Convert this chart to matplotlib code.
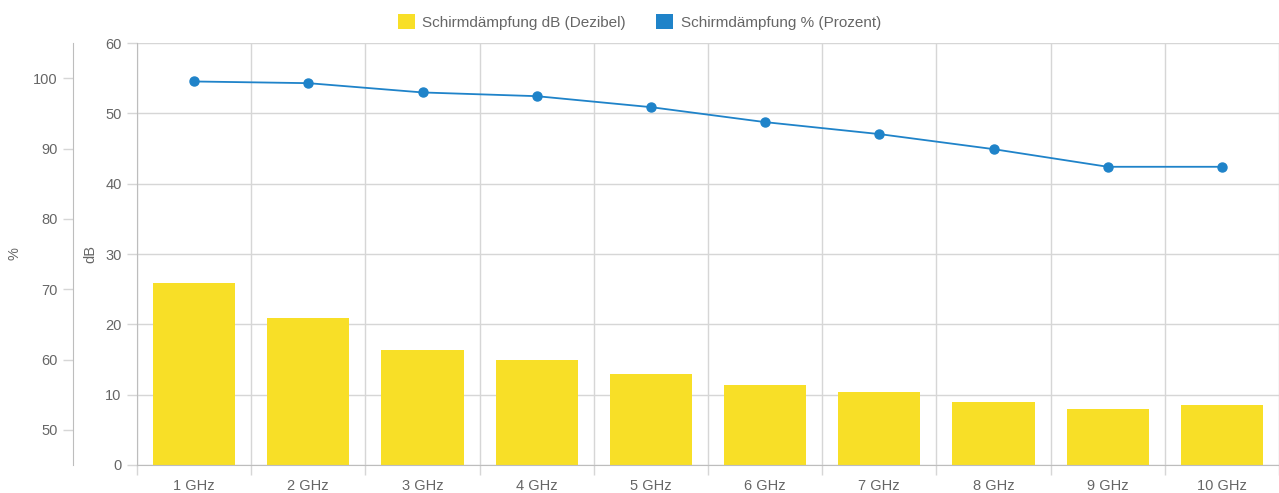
import matplotlib
matplotlib.use("Agg")
import matplotlib.pyplot as plt
import numpy as np
from matplotlib.patches import Patch

plt.rcParams["font.family"] = ["Liberation Sans", "DejaVu Sans"]

# ---------------------------------------------------------------------------
# Data
# ---------------------------------------------------------------------------

frequencies = ["1 GHz", "2 GHz", "3 GHz", "4 GHz", "5 GHz",
               "6 GHz", "7 GHz", "8 GHz", "9 GHz", "10 GHz"]
attenuation_db = [25.9, 20.9, 16.4, 14.9, 12.9, 11.4, 10.4, 9.0, 8.0, 8.5]
attenuation_pct = [99.53, 99.29, 97.97, 97.44, 95.88, 93.75, 92.05, 89.91, 87.4, 87.4]

db_ticks = [0, 10, 20, 30, 40, 50, 60]
pct_ticks = [50, 60, 70, 80, 90, 100]

YELLOW = "#f8df27"
BLUE = "#1f83c9"
TEXT = "#666666"
GRID = "#d6d6d6"
AXIS = "#bdbdbd"

W, H = 1279, 493
fig = plt.figure(figsize=(W / 100, H / 100), dpi=100)
fig.patch.set_facecolor("white")

left, right, top, bottom = 137, 1279, 43, 465
ax = fig.add_axes([left / W, (H - bottom) / H, (right - left) / W, (bottom - top) / H])

x = np.arange(len(frequencies))
ax.bar(x, attenuation_db, width=0.72, color=YELLOW, zorder=2)
ax.set_xlim(-0.5, len(frequencies) - 0.5)
ax.set_ylim(0, 60)
ax.set_yticks(db_ticks)
ax.set_xticks(x)
ax.set_xticklabels(frequencies)
ax.set_xticks(np.arange(-0.5, len(frequencies)), minor=True)
ax.tick_params(axis="x", which="major", length=0, pad=10, labelsize=10.5, labelcolor=TEXT)
ax.tick_params(axis="x", which="minor", length=7, color=GRID, width=1)
ax.tick_params(axis="y", length=7, color=GRID, width=1, pad=4, labelsize=10.5, labelcolor=TEXT)
ax.grid(axis="y", which="major", color=GRID, linewidth=1, zorder=0)
ax.grid(axis="x", which="minor", color=GRID, linewidth=1, zorder=0)
ax.set_axisbelow(True)
for side in ("top", "right"):
    ax.spines[side].set_visible(False)
for side in ("left", "bottom"):
    ax.spines[side].set_color(AXIS)
ax.set_ylabel("dB", color=TEXT, fontsize=10.5, labelpad=6)

# Percentage axis, offset to the left
ax2 = ax.twinx()
ax2.plot(x, attenuation_pct, color=BLUE, linewidth=1.3, marker="o",
         markersize=6.5, zorder=3)
ax2.set_ylim(45, 105)
ax2.set_yticks(pct_ticks)
ax2.yaxis.set_ticks_position("left")
ax2.yaxis.set_label_position("left")
ax2.spines["left"].set_position(("axes", -64 / (right - left)))
ax2.spines["left"].set_color(AXIS)
for side in ("top", "right", "bottom"):
    ax2.spines[side].set_visible(False)
ax2.tick_params(axis="y", length=7, color=GRID, width=1, pad=4, labelsize=10.5, labelcolor=TEXT)
ax2.set_ylabel("%", color=TEXT, fontsize=10.5, labelpad=8)

handles = [Patch(facecolor=YELLOW, edgecolor="none"),
           Patch(facecolor=BLUE, edgecolor="none")]
fig.legend(handles, ["Schirmdämpfung dB (Dezibel)", "Schirmdämpfung % (Prozent)"],
           loc="upper center", bbox_to_anchor=(0.5, 1.0), ncol=2, frameon=False,
           fontsize=11, labelcolor=TEXT, handlelength=1.1, handleheight=1.15,
           columnspacing=2.0, handletextpad=0.5)

fig.savefig("out.png", dpi=100, facecolor="white")
